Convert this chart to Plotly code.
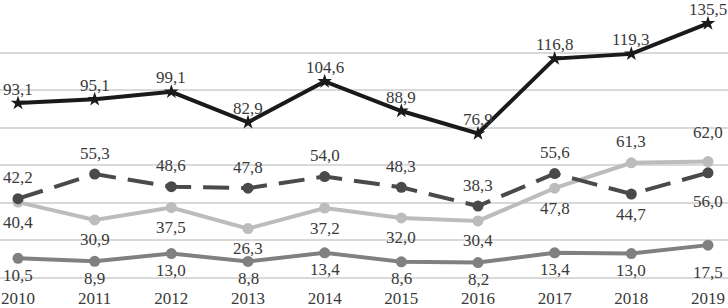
import plotly.graph_objects as go

years = ["2010", "2011", "2012", "2013", "2014", "2015", "2016", "2017", "2018", "2019"]
series_black = [93.1, 95.1, 99.1, 82.9, 104.6, 88.9, 76.9, 116.8, 119.3, 135.5]
series_dashed = [42.2, 55.3, 48.6, 47.8, 54.0, 48.3, 38.3, 55.6, 44.7, 56.0]
series_light = [40.4, 30.9, 37.5, 26.3, 37.2, 32.0, 30.4, 47.8, 61.3, 62.0]
series_mid = [10.5, 8.9, 13.0, 8.8, 13.4, 8.6, 8.2, 13.4, 13.0, 17.5]

# label placement: "a" above, "b" below
pos_black = ["a"] * 10
pos_dashed = ["a"] * 8 + ["b", "b"]
pos_light = ["b"] * 8 + ["a", "a"]
pos_mid = ["b"] * 10

FONT = "Liberation Serif, Times New Roman, serif"
TXT = "#3a3a3a"

fig = go.Figure()

specs = [
    ("mid", series_mid, pos_mid, "#808080", "solid", "circle", 11),
    ("light", series_light, pos_light, "#bcbcbc", "solid", "circle", 11),
    ("dashed", series_dashed, pos_dashed, "#4a4a4a", "26px,12px", "circle", 11),
    ("black", series_black, pos_black, "#1a1a1a", "solid", "star", 11),
]

annotations = []
x = list(range(len(years)))
for name, vals, pos, color, dash, sym, msize in specs:
    fig.add_trace(go.Scatter(
        x=x, y=vals, mode="lines+markers",
        line=dict(color=color, width=4, dash=dash),
        marker=dict(color=color, size=msize, symbol=sym),
        showlegend=False, cliponaxis=False,
    ))
    last = len(vals) - 1
    for i, (v, p) in enumerate(zip(vals, pos)):
        if name == "black":
            shift = 14
        elif p == "a":
            shift = 29 if i == last else 21
        elif name == "mid":
            shift = -27 if i == last else -17
        else:
            shift = -29 if i == last else -20
        annotations.append(dict(
            x=i, y=v, text=f"{v:.1f}".replace(".", ","),
            showarrow=False, yshift=shift,
            font=dict(family=FONT, size=17, color=TXT),
        ))

fig.update_layout(
    width=728, height=308,
    margin=dict(l=0, r=0, t=15, b=30, autoexpand=False),
    paper_bgcolor="white", plot_bgcolor="white",
    annotations=annotations,
    xaxis=dict(
        range=[-0.235, 9.261], automargin=False,
        tickmode="array", tickvals=x, ticktext=years,
        showgrid=False, zeroline=False, showline=False,
        tickfont=dict(family=FONT, size=17, color=TXT),
        ticks="", ticklabelstandoff=8,
    ),
    yaxis=dict(
        range=[0, 140], dtick=20, automargin=False,
        showgrid=True, gridcolor="#d9d9d9", gridwidth=1.5,
        zeroline=True, zerolinecolor="#d9d9d9", zerolinewidth=1.5,
        showticklabels=False, showline=False,
    ),
)

fig.write_html(
    "out.html",
    config={"displayModeBar": False},
    post_script="document.body.style.margin='0';document.body.style.overflow='hidden';",
)
